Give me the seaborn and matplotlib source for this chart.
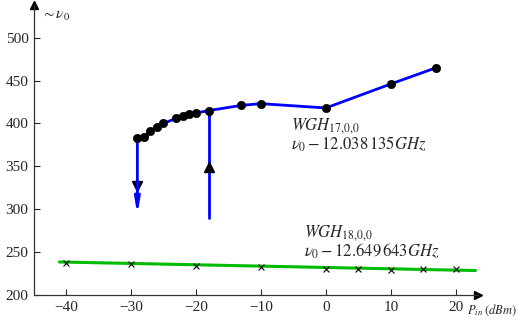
import numpy as np
import pandas as pd
import matplotlib
matplotlib.use("Agg")
import matplotlib.pyplot as plt
import seaborn as sns

# WGH 17,0,0 branch (blue, dots)
p17 = [-29, -28, -27, -26, -25, -23, -22, -21, -20, -18, -13, -10, 0, 10, 17]
f17 = [383, 384, 391, 396, 400, 406, 409, 411, 412, 415, 421, 423, 418, 446, 465]
# jumps of the hysteresis loop
drop_x, drop_y = [-29, -29], [383, 290]
rise_x, rise_y = [-18, -18], [290, 415]
# WGH 18,0,0 branch (green line, crosses)
p18 = [-40, -30, -20, -10, 0, 5, 10, 15, 20]
f18 = [237, 236, 234, 233, 230, 230, 229, 230, 230]
fit18_x = [-41, 23]
fit18_y = [238.5, 228.5]
yticks = [200, 250, 300, 350, 400, 450, 500]
xticks = [-40, -30, -20, -10, 0, 10, 20]

sns.set_style("ticks")
plt.rcParams["font.family"] = ["Liberation Serif", "DejaVu Serif"]
plt.rcParams["mathtext.fontset"] = "stix"

fig = plt.figure(figsize=(5.18, 3.22), dpi=100)
ax = fig.add_axes([34 / 518, 27 / 322, 444 / 518, 290 / 322])

df17 = pd.DataFrame({"P": p17, "f": f17})
df18 = pd.DataFrame({"P": p18, "f": f18})

sns.lineplot(data=df17, x="P", y="f", color="#0000ff", lw=2, ax=ax, sort=False)
sns.scatterplot(data=df17, x="P", y="f", color="black", s=36, edgecolor="black", ax=ax, zorder=5)

# hysteresis jumps
ax.annotate("", xy=(drop_x[1], drop_y[1]), xytext=(drop_x[0], drop_y[0]),
            arrowprops=dict(arrowstyle="-|>,head_length=0.9,head_width=0.15", color="#0000ff", lw=2))
ax.plot(rise_x, rise_y, color="#0000ff", lw=2)
ax.plot(drop_x[0], np.mean(drop_y) - 10, marker="v", color="black", ms=7)
ax.plot(rise_x[0], np.mean(rise_y) - 3, marker="^", color="black", ms=7)

sns.lineplot(x=fit18_x, y=fit18_y, color="#00bb00", lw=2.2, ax=ax)
sns.scatterplot(data=df18, x="P", y="f", marker="x", color="black", s=18, linewidth=0.8, ax=ax, zorder=5)

ax.text(-5.3, 393, r"$WGH_{\mathrm{17{,}0{,}0}}$", fontsize=12)
ax.text(-5.3, 369, r"$\nu_0 - \mathrm{12.038\,135}GHz$", fontsize=12)
ax.text(-3.3, 268, r"$WGH_{\mathrm{18{,}0{,}0}}$", fontsize=12)
ax.text(-3.3, 245, r"$\nu_0 - \mathrm{12.649\,643}GHz$", fontsize=12)

ax.set_xlim(-44.9, 23.4)
ax.set_ylim(200, 538)
ax.set_xticks(xticks)
ax.set_yticks(yticks)
ax.set_xticklabels([str(t).replace("-", "\u2212") for t in xticks])
ax.set_xlabel("")
ax.set_ylabel("")
ax.tick_params(direction="in", length=4, width=0.8, labelsize=11, pad=4)
for side in ["top", "right"]:
    ax.spines[side].set_visible(False)
for side in ["left", "bottom"]:
    ax.spines[side].set_linewidth(0.9)
    ax.spines[side].set_color("#333333")

ax.plot(1, 0, ">", color="black", ms=6, transform=ax.transAxes, clip_on=False)
ax.plot(0, 1, "^", color="black", ms=6, transform=ax.transAxes, clip_on=False)
ax.text(0.015, 0.985, r"$\sim \nu_0$", transform=ax.transAxes, fontsize=11, va="top")
ax.text(0.975, -0.025, r"$P_{in}\;(dBm)$", transform=ax.transAxes, fontsize=9, va="top", ha="left")

fig.savefig("out.png", dpi=100)
